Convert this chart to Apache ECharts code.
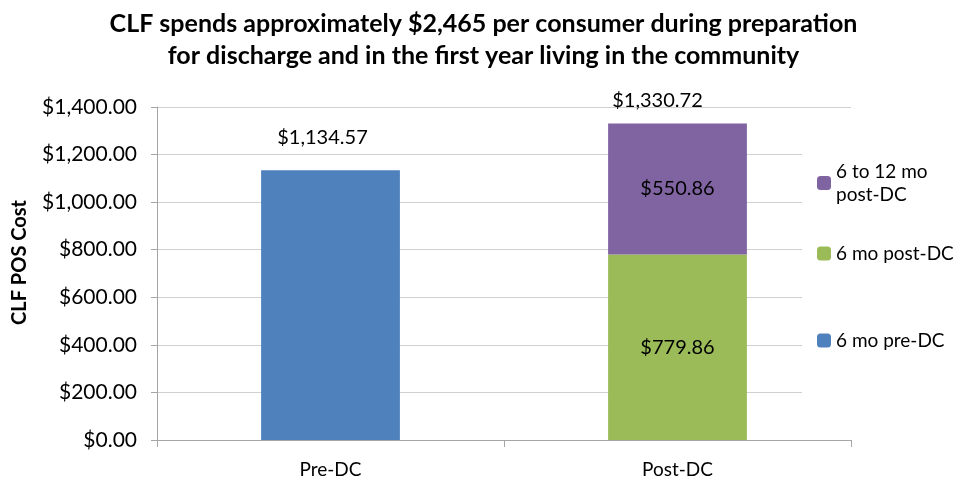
<!DOCTYPE html>
<html lang="en">
<head>
    <meta charset="utf-8" />
    <style>
        body { margin: 0; background: #fff; overflow: hidden; }
        .box { width: 967px; height: 482px; }
    </style>
</head>
<body>
    <div class="box"></div>
    <script src="https://cdn.jsdelivr.net/npm/echarts@6/dist/echarts.min.js"></script>
    <script>
// data
var categories = ['Pre-DC', 'Post-DC'];
var preDC = [1134.57, null];
var post6 = [null, 779.86];
var post612 = [null, 550.86];
var totals = [null, 1330.72];
var seriesNames = ['6 mo pre-DC', '6 mo post-DC', '6 to 12 mo post-DC'];

var FONT = 'Lato';

function money(v) {
    return '$' + Number(v).toLocaleString('en-US', { minimumFractionDigits: 2, maximumFractionDigits: 2 });
}

var myChart = echarts.init(document.querySelector('.box'));

function legendAt(name, top, text) {
    return {
        data: [name],
        orient: 'vertical',
        left: 817,
        top: top,
        padding: 0,
        itemWidth: 14,
        itemHeight: 14,
        itemGap: 0,
        selectedMode: false,
        z: 5,
        formatter: function () { return text; },
        textStyle: { fontFamily: FONT, fontSize: 19, color: '#000', lineHeight: 23 }
    };
}

var option = {
    backgroundColor: '#fff',
    animation: false,
    title: {
        text: 'CLF spends approximately $2,465 per consumer during preparation\nfor discharge and in the first year living in the community',
        left: 'center',
        top: 3,
        textStyle: { fontFamily: FONT, fontWeight: 'bold', fontSize: 25, lineHeight: 32, color: '#000' }
    },
    grid: { left: 157, right: 116, top: 107, bottom: 42 },
    legend: [
        legendAt(seriesNames[2], 160, '6 to 12 mo\npost-DC'),
        legendAt(seriesNames[1], 242, '6 mo post-DC'),
        legendAt(seriesNames[0], 329, '6 mo pre-DC')
    ],
    // legend box in the original hides the right end of the gridlines
    graphic: [{
        type: 'rect',
        left: 802, top: 140,
        shape: { width: 165, height: 262 },
        style: { fill: '#fff' },
        z: 3
    }],
    xAxis: {
        type: 'category',
        data: categories,
        axisLine: { lineStyle: { color: '#a6a6a6', width: 1 } },
        axisTick: { show: true, length: 7, lineStyle: { color: '#a6a6a6' } },
        axisLabel: { fontFamily: FONT, fontSize: 19, color: '#000', margin: 20 }
    },
    yAxis: {
        type: 'value',
        min: 0,
        max: 1400,
        interval: 200,
        name: 'CLF POS Cost',
        nameLocation: 'middle',
        nameRotate: 90,
        nameGap: 127,
        nameTextStyle: { fontFamily: FONT, fontWeight: 'bold', fontSize: 20, color: '#000', padding: [0, 0, 0, 22] },
        axisLine: { show: true, lineStyle: { color: '#a6a6a6' } },
        axisTick: { show: true, length: 6, lineStyle: { color: '#a6a6a6' } },
        splitLine: { lineStyle: { color: '#d0d0d0' } },
        axisLabel: {
            fontFamily: FONT, fontSize: 21, color: '#000', margin: 20,
            formatter: money
        }
    },
    series: [{
        name: seriesNames[0],
        type: 'bar',
        stack: 'cost',
        barWidth: '40%',
        data: preDC,
        itemStyle: { color: '#4F81BD' },
        label: {
            show: true, position: 'top', distance: 23, offset: [-8, 0],
            fontFamily: FONT, fontSize: 20, color: '#000',
            formatter: function (p) { return money(p.value); }
        }
    }, {
        name: seriesNames[1],
        type: 'bar',
        stack: 'cost',
        data: post6,
        itemStyle: { color: '#9BBB59' },
        label: {
            show: true, position: 'inside',
            fontFamily: FONT, fontSize: 20, color: '#000',
            formatter: function (p) { return money(p.value); }
        }
    }, {
        name: seriesNames[2],
        type: 'bar',
        stack: 'cost',
        data: post612,
        itemStyle: { color: '#8064A2' },
        label: {
            show: true, position: 'inside',
            fontFamily: FONT, fontSize: 20, color: '#000',
            formatter: function (p) { return money(p.value); }
        }
    }, {
        name: 'total',
        type: 'bar',
        stack: 'cost',
        data: totals.map(function (t) { return t == null ? null : 0; }),
        itemStyle: { color: 'transparent' },
        label: {
            show: true, position: 'top', distance: 13, offset: [-20, 0],
            fontFamily: FONT, fontSize: 20, color: '#000',
            formatter: function (p) { return money(totals[p.dataIndex]); }
        }
    }]
};

myChart.setOption(option);
    </script>
</body>
</html>
